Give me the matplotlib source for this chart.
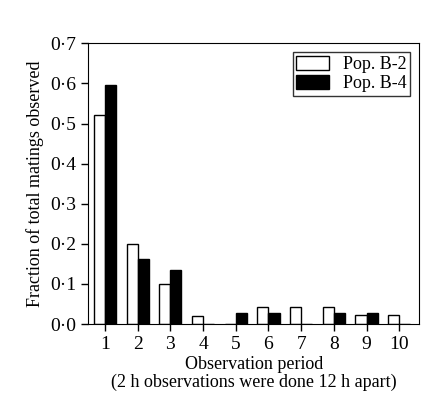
import numpy as np
import matplotlib.pyplot as plt
from matplotlib.ticker import FuncFormatter

plt.rcParams['font.family'] = ['Liberation Serif', 'DejaVu Serif']

periods = np.arange(1, 11)
pop_b2 = [0.52, 0.20, 0.10, 0.02, 0.0, 0.042, 0.042, 0.042, 0.022, 0.022]
pop_b4 = [0.595, 0.162, 0.135, 0.0, 0.028, 0.028, 0.0, 0.028, 0.028, 0.0]

fig = plt.figure(figsize=(4.25, 4.01), dpi=100)
ax = fig.add_axes([0.207, 0.192, 0.78, 0.70])

w = 0.34
ax.bar(periods - w / 2, pop_b2, w, color='white', edgecolor='black', linewidth=1, label='Pop. B-2')
ax.bar(periods + w / 2, pop_b4, w, color='black', edgecolor='black', linewidth=1, label='Pop. B-4')

ax.set_xlim(0.48, 10.62)
ax.set_ylim(0, 0.7)
ax.set_xticks(periods)
ax.set_yticks(np.arange(0, 0.71, 0.1))
ax.yaxis.set_major_formatter(FuncFormatter(lambda v, p: f'{v:.1f}'.replace('.', '·')))
ax.tick_params(labelsize=14, length=5, width=1)
ax.set_xlabel('Observation period\n(2 h observations were done 12 h apart)', fontsize=13, linespacing=1.1, labelpad=2)
ax.set_ylabel('Fraction of total matings observed', fontsize=13)
ax.legend(loc='upper right', fontsize=13, frameon=True, fancybox=False, edgecolor='black',
          handlelength=1.8, handleheight=0.8, borderpad=0.2, labelspacing=0.1)
fig.savefig('out.png', dpi=100)
